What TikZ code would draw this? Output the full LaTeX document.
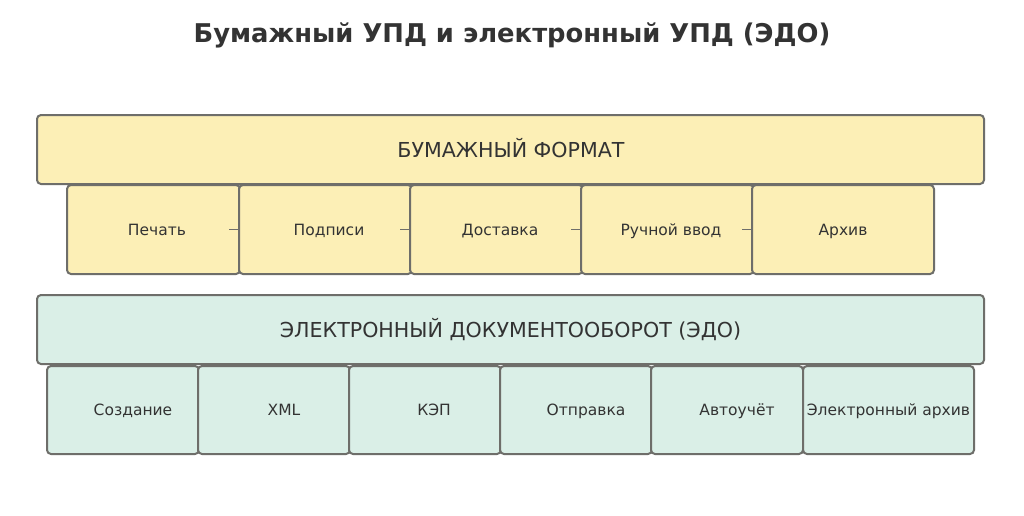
\documentclass[tikz,border=0pt]{standalone}
\usepackage{fontspec}
\setmainfont{DejaVu Sans}
\definecolor{edge}{HTML}{6E6E6A}
\definecolor{paper}{HTML}{FCEFB6}
\definecolor{elec}{HTML}{DAEFE7}
\definecolor{ink}{HTML}{333333}
\begin{document}
\begin{tikzpicture}[x=1pt,y=-1pt,
  box/.style={draw=edge, line width=2pt, rounded corners=4pt, inner sep=0pt},
  hdr/.style={font=\fontsize{20.6}{24}\selectfont, text=ink, anchor=base},
  sub/.style={font=\fontsize{15.5}{18}\selectfont, text=ink, anchor=base},
  link/.style={draw=edge, line width=1.5pt}]
\useasboundingbox[fill=white] (0,0) rectangle (1024,515);
\node[font=\bfseries\fontsize{25.8}{30}\selectfont, text=ink, anchor=base] (title) at (512,42) {Бумажный УПД и электронный УПД (ЭДО)};
% paper
\node[box, fill=paper, minimum width=947pt, minimum height=69pt] (ph) at (510.5,149.5) {};
\node[hdr] (pht) at (511,157) {БУМАЖНЫЙ ФОРМАТ};
\foreach \n/\cx/\w in {p1/153.5/173, p2/325.5/173, p3/496.5/173, p4/667.5/173, p5/843/182}{
  \node[box, fill=paper, minimum width=\w pt, minimum height=89pt] (\n) at (\cx,229.5) {};
}
\node[sub] (p1t) at (157,235) {Печать};
\node[sub] (p2t) at (329,235) {Подписи};
\node[sub] (p3t) at (500,235) {Доставка};
\node[sub] (p4t) at (671,235) {Ручной ввод};
\node[sub] (p5t) at (843,235) {Архив};
\foreach \a/\b in {p1/p2, p2/p3, p3/p4, p4/p5}{
  \draw[link] ([xshift=-9pt]\b.west) -- (\b.west);
}
% electronic
\node[box, fill=elec, minimum width=947pt, minimum height=69pt] (eh) at (510.5,329.5) {};
\node[hdr] (eht) at (510.5,337) {ЭЛЕКТРОННЫЙ ДОКУМЕНТООБОРОТ (ЭДО)};
\foreach \n/\cx/\w in {e1/123/152, e2/274/152, e3/425/152, e4/576/152, e5/727/152, e6/888.5/171}{
  \node[box, fill=elec, minimum width=\w pt, minimum height=88pt] (\n) at (\cx,410) {};
}
\node[sub] (e1t) at (133,415.5) {Создание};
\node[sub] (e2t) at (284,415.5) {XML};
\node[sub] (e3t) at (434,415.5) {КЭП};
\node[sub] (e4t) at (586,415.5) {Отправка};
\node[sub] (e5t) at (737,415.5) {Автоучёт};
\node[sub] (e6t) at (888.5,415.5) {Электронный архив};
\end{tikzpicture}
\end{document}
